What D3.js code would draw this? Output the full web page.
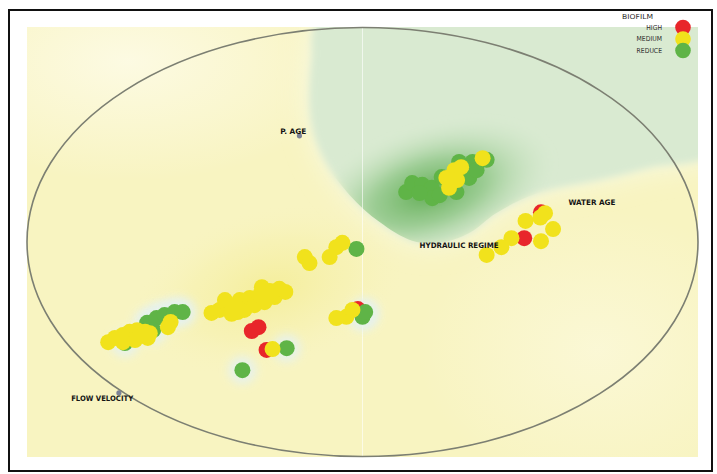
<!DOCTYPE html>
<html>
<head>
<meta charset="utf-8">
<script src="https://cdn.jsdelivr.net/npm/d3@7"></script>
<style>
  html, body { margin: 0; padding: 0; background: #ffffff; }
  svg { display: block; }
</style>
</head>
<body>
<script>
// Biofilm classes projected onto the four hydraulic variables (radial map, 0–100 units)
const high = [
  [76.6, 56.9], [33.5, 29.3], [34.5, 30.2], [49.3, 34.4], [35.7, 24.9], [74.1, 50.9]
];
const reduce = [
  [56.5, 61.6], [57.4, 63.7], [58.9, 63.3], [60.3, 62.6], [60.4, 60.2], [61.8, 65.1],
  [62.9, 63.7], [64.0, 61.6], [64.4, 68.6], [65.9, 64.9], [66.4, 68.6], [67.0, 66.7],
  [68.5, 69.1], [58.5, 61.4], [61.5, 60.9],
  [49.1, 48.4], [50.0, 32.6], [50.4, 33.7],
  [14.6, 26.5], [17.9, 31.2], [19.3, 32.3], [20.5, 33.0], [22.0, 33.7], [23.2, 33.7], [18.8, 29.5],
  [38.7, 25.3], [32.1, 20.2]
];
const medium = [
  [67.9, 69.5], [64.7, 67.4], [63.7, 66.7], [62.5, 64.9], [64.1, 64.4], [62.9, 62.6],
  [77.2, 56.7], [76.5, 55.7], [74.3, 54.9], [78.4, 53.0], [76.6, 50.2], [72.2, 50.9],
  [70.7, 48.8], [68.5, 47.0],
  [41.4, 46.5], [42.1, 45.1], [45.1, 46.5], [46.1, 48.8], [47.0, 49.8],
  [27.5, 33.5], [28.7, 34.2], [29.9, 35.3], [30.5, 33.3], [31.7, 36.5], [32.4, 34.2],
  [33.2, 37.0], [33.9, 35.3], [34.7, 37.7], [35.4, 36.0], [36.2, 38.6], [36.9, 37.2],
  [37.6, 39.1], [38.5, 38.4], [29.5, 36.5], [35.0, 39.5], [31.4, 33.7],
  [46.1, 32.3], [47.6, 32.6], [48.5, 34.2],
  [12.1, 26.7], [13.1, 27.7], [14.3, 28.4], [15.3, 29.1], [16.4, 29.5], [17.6, 29.1],
  [18.3, 28.8], [18.0, 27.7], [16.1, 27.2], [14.3, 26.7], [21.4, 31.4], [21.0, 30.2],
  [36.6, 25.1]
];

// Variable anchors
const anchors = [
  { name: "P. AGE", pos: [40.6, 74.7], label: [39.7, 75.6], w: 26, marker: true },
  { name: "FLOW VELOCITY", pos: [13.7, 14.9], label: [11.2, 13.5], w: 62, marker: true },
  { name: "WATER AGE", pos: [84.2, 59.1], label: [84.2, 59.1], w: 47, marker: false },
  { name: "HYDRAULIC REGIME", pos: [64.4, 49.3], label: [64.4, 49.3], w: 79, marker: false }
];

// Legend
const legendTitle = "BIOFILM";
const legendLabels = ["HIGH", "MEDIUM", "REDUCE"];
const legendColors = ["#e8262b", "#f1e21c", "#5fb446"];

// Outline of the low-biofilm zone (same units)
const zone = [
  [43.6, 101.6], [103, 101.6], [103, 71.4], [92.7, 67.2], [85.3, 64.4], [79.3, 62.6],
  [74.9, 60.7], [69.9, 56.7], [65.9, 52.1], [61.5, 49.8], [57.4, 50.3], [52.5, 54.7],
  [48.1, 60.9], [44.3, 69.1], [42.3, 78.4], [42.4, 92.3]
];

const W = 717, H = 474;
const panel = { x0: 27, y0: 27, x1: 698, y1: 457 };
const x = d3.scaleLinear().domain([0, 100]).range([panel.x0, panel.x1]);
const y = d3.scaleLinear().domain([0, 100]).range([panel.y1, panel.y0]);
const R = 8;

const svg = d3.select("body").append("svg").attr("width", W).attr("height", H);
const defs = svg.append("defs");

defs.append("clipPath").attr("id", "panelClip")
  .append("rect").attr("x", panel.x0).attr("y", panel.y0)
  .attr("width", panel.x1 - panel.x0).attr("height", panel.y1 - panel.y0);

const zonePath = d3.line().x(d => x(d[0])).y(d => y(d[1])).curve(d3.curveCatmullRomClosed.alpha(0.5));

defs.append("clipPath").attr("id", "zoneClip")
  .append("path").attr("d", zonePath(zone));

function blur(id, sd) {
  defs.append("filter").attr("id", id)
    .attr("x", "-50%").attr("y", "-50%").attr("width", "200%").attr("height", "200%")
    .append("feGaussianBlur").attr("stdDeviation", sd);
}
blur("soft", 0.55);
blur("edge", 3.5);
blur("halo", 5);
blur("wide", 14);

function radial(id, stops) {
  const g = defs.append("radialGradient").attr("id", id);
  stops.forEach(s => g.append("stop").attr("offset", s[0]).attr("stop-color", s[1]).attr("stop-opacity", s[2]));
}
radial("greenCore", [["0%", "#62ad55", 1], ["45%", "#88c380", 0.75], ["100%", "#c9e2c2", 0]]);
radial("yellowCore", [["0%", "#f3eb8a", 0.7], ["60%", "#f5ee9c", 0.3], ["100%", "#f8f3bd", 0]]);
radial("paleCorner", [["0%", "#fdfbe6", 0.9], ["100%", "#fdfbe6", 0]]);

// frame
svg.append("rect").attr("x", 9).attr("y", 10).attr("width", 703).attr("height", 461)
  .attr("fill", "#ffffff").attr("stroke", "#111").attr("stroke-width", 2);

const bg = svg.append("g").attr("clip-path", "url(#panelClip)");
bg.append("rect").attr("x", panel.x0).attr("y", panel.y0)
  .attr("width", panel.x1 - panel.x0).attr("height", panel.y1 - panel.y0)
  .attr("fill", "#f8f4c1");

// lighter upper-left and lower-right areas
bg.append("ellipse").attr("cx", x(15)).attr("cy", y(92)).attr("rx", 230).attr("ry", 120)
  .attr("fill", "url(#paleCorner)");
bg.append("ellipse").attr("cx", x(85)).attr("cy", y(25)).attr("rx", 180).attr("ry", 140)
  .attr("fill", "url(#paleCorner)").attr("opacity", 0.6);

// denser yellow around the main medium group
bg.append("ellipse").attr("cx", x(36)).attr("cy", y(39)).attr("rx", 140).attr("ry", 80)
  .attr("transform", `rotate(-15 ${x(36)} ${y(39)})`)
  .attr("fill", "url(#yellowCore)");

// low-biofilm zone
bg.append("path").attr("d", zonePath(zone))
  .attr("fill", "#f6f9e6").attr("filter", "url(#wide)");
bg.append("path").attr("d", zonePath(zone))
  .attr("fill", "#d9ead1").attr("filter", "url(#edge)");
bg.append("g").attr("clip-path", "url(#zoneClip)")
  .append("ellipse").attr("cx", x(60)).attr("cy", y(61.5)).attr("rx", 130).attr("ry", 66)
  .attr("transform", `rotate(-18 ${x(60)} ${y(61.5)})`)
  .attr("fill", "url(#greenCore)").attr("filter", "url(#edge)");

// faint centre divider
bg.append("line").attr("x1", x(50)).attr("x2", x(50)).attr("y1", panel.y0).attr("y2", panel.y1)
  .attr("stroke", "#ffffff").attr("stroke-opacity", 0.6).attr("stroke-width", 1);

// halos around reduce points outside the zone
bg.append("g").selectAll("circle").data(reduce.filter(d => d[1] < 45)).join("circle")
  .attr("cx", d => x(d[0])).attr("cy", d => y(d[1])).attr("r", R + 6)
  .attr("fill", "#e6f2ee").attr("opacity", 0.9).attr("filter", "url(#halo)");

// outer ellipse
svg.append("ellipse").attr("cx", x(50)).attr("cy", y(50))
  .attr("rx", (panel.x1 - panel.x0) / 2).attr("ry", (panel.y1 - panel.y0) / 2 - 0.5)
  .attr("fill", "none").attr("stroke", "#7c7f72").attr("stroke-width", 1.6);

// points
const pts = svg.append("g").attr("filter", "url(#soft)");
[[high, legendColors[0]], [reduce, legendColors[2]], [medium, legendColors[1]]].forEach(([data, col]) => {
  pts.append("g").selectAll("circle").data(data).join("circle")
    .attr("cx", d => x(d[0])).attr("cy", d => y(d[1])).attr("r", R).attr("fill", col);
});

// anchors
const font = "'Liberation Sans Narrow', 'DejaVu Sans Condensed', sans-serif";
const ag = svg.append("g");
ag.selectAll("circle").data(anchors.filter(a => a.marker)).join("circle")
  .attr("cx", d => x(d.pos[0])).attr("cy", d => y(d.pos[1])).attr("r", 2.6)
  .attr("fill", "#7d8296");
ag.selectAll("text").data(anchors).join("text")
  .attr("x", d => x(d.label[0])).attr("y", d => y(d.label[1]))
  .attr("text-anchor", "middle").attr("dominant-baseline", "central")
  .attr("font-family", font).attr("font-weight", "bold").attr("font-size", 7.5)
  .attr("textLength", d => d.w).attr("lengthAdjust", "spacingAndGlyphs")
  .attr("fill", "#141414").text(d => d.name);

// legend
const lg = svg.append("g");
lg.append("text").attr("x", 653).attr("y", 17).attr("text-anchor", "end")
  .attr("dominant-baseline", "central").attr("font-family", font).attr("font-size", 6.8)
  .attr("textLength", 31).attr("lengthAdjust", "spacingAndGlyphs")
  .attr("fill", "#2e2e2e").text(legendTitle);
const ly = d3.scalePoint().domain(legendLabels).range([27.5, 50.5]);
lg.selectAll("circle").data(legendLabels).join("circle")
  .attr("cx", 683).attr("cy", d => ly(d)).attr("r", 7.8)
  .attr("fill", (d, i) => legendColors[i]).attr("filter", "url(#soft)");
lg.selectAll("text.item").data(legendLabels).join("text").attr("class", "item")
  .attr("x", 662).attr("y", d => ly(d)).attr("text-anchor", "end")
  .attr("dominant-baseline", "central").attr("font-family", font).attr("font-size", 6.8)
  .attr("fill", "#2e2e2e").text(d => d);
</script>
</body>
</html>
